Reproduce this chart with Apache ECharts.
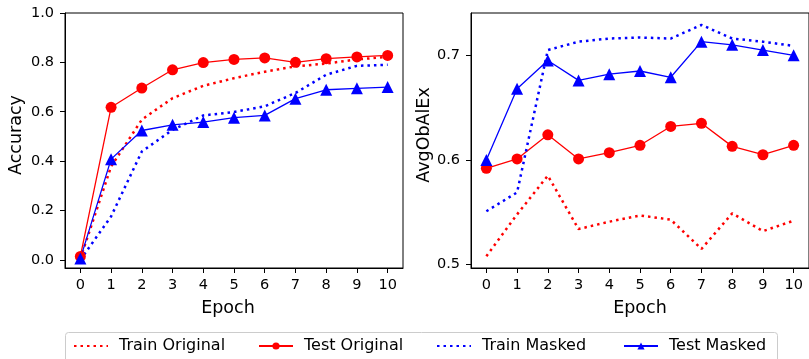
<!DOCTYPE html>
<html>
<head>
<meta charset="utf-8">
<script src="https://cdn.jsdelivr.net/npm/echarts@6/dist/echarts.min.js"></script>
<style>
  html, body { margin: 0; padding: 0; background: #fff; }
  #main { width: 809px; height: 359px; }
</style>
</head>
<body>
<div id="main"></div>
<script>
const epochs = [0, 1, 2, 3, 4, 5, 6, 7, 8, 9, 10]
const seriesNames = ['Train Original', 'Test Original', 'Train Masked', 'Test Masked']

// left: accuracy
const accTrainOriginal = [0.005, 0.378, 0.568, 0.655, 0.705, 0.736, 0.762, 0.784, 0.795, 0.812, 0.822]
const accTestOriginal = [0.014, 0.618, 0.696, 0.770, 0.799, 0.812, 0.818, 0.800, 0.815, 0.822, 0.828]
const accTrainMasked = [0.0, 0.176, 0.439, 0.527, 0.585, 0.599, 0.622, 0.676, 0.750, 0.786, 0.790]
const accTestMasked = [0.005, 0.408, 0.524, 0.547, 0.558, 0.576, 0.585, 0.653, 0.689, 0.695, 0.700]
const accTicks = [0, 0.2, 0.4, 0.6, 0.8, 1.0]

// right: AvgObAlEx
const alTrainOriginal = [0.508, 0.548, 0.585, 0.534, 0.541, 0.547, 0.543, 0.515, 0.549, 0.532, 0.542]
const alTestOriginal = [0.592, 0.601, 0.624, 0.601, 0.607, 0.614, 0.632, 0.635, 0.613, 0.605, 0.614]
const alTrainMasked = [0.551, 0.569, 0.705, 0.713, 0.716, 0.717, 0.716, 0.729, 0.716, 0.713, 0.709]
const alTestMasked = [0.600, 0.668, 0.695, 0.676, 0.682, 0.685, 0.679, 0.713, 0.710, 0.705, 0.700]
const alTicks = [0.5, 0.6, 0.7]

const RED = '#ff0000'
const BLUE = '#0000ff'
const FONT = 'DejaVu Sans'

const pairs = vals => epochs.map((e, i) => [e, vals[i]])

const xAxisFor = (gridIndex, namePad) => ({
  type: 'value',
  gridIndex: gridIndex,
  min: -0.5,
  max: 10.5,
  name: 'Epoch',
  nameLocation: 'middle',
  nameGap: 31,
  nameTextStyle: {fontFamily: FONT, fontSize: 17.5, color: '#000', padding: namePad},
  axisLine: {show: true, onZero: false, lineStyle: {color: '#000', width: 1}},
  axisTick: {show: true, inside: false, length: 5, lineStyle: {color: '#000'}, customValues: epochs},
  axisLabel: {fontFamily: FONT, fontSize: 14.5, color: '#000', margin: 10, customValues: epochs},
  splitLine: {show: false}
})

const yAxisFor = (gridIndex, min, max, ticks, name, gap) => ({
  type: 'value',
  gridIndex: gridIndex,
  min: min,
  max: max,
  name: name,
  nameLocation: 'middle',
  nameGap: gap,
  // nudge the rotated title up a little, like the original
  nameTextStyle: {fontFamily: FONT, fontSize: 17.5, color: '#000', padding: [0, 0, 0, 11]},
  axisLine: {show: true, onZero: false, lineStyle: {color: '#000', width: 1}},
  axisTick: {show: true, inside: false, length: 5, lineStyle: {color: '#000'}, customValues: ticks},
  axisLabel: {
    fontFamily: FONT, fontSize: 14.5, color: '#000', margin: 11, customValues: ticks,
    formatter: v => Number(v).toFixed(1)
  },
  splitLine: {show: false}
})

const dotted = (name, data, color, idx) => ({
  name: name,
  type: 'line',
  xAxisIndex: idx,
  yAxisIndex: idx,
  data: pairs(data),
  symbol: 'none',
  lineStyle: {color: color, width: 2.5, type: [2.5, 4], cap: 'butt'},
  itemStyle: {color: color},
  animation: false
})

const solid = (name, data, color, symbol, size, idx) => ({
  name: name,
  type: 'line',
  xAxisIndex: idx,
  yAxisIndex: idx,
  data: pairs(data),
  symbol: symbol,
  symbolSize: size,
  showAllSymbol: true,
  lineStyle: {color: color, width: 1.3},
  itemStyle: {color: color, borderWidth: 0},
  animation: false
})

const legendAt = (name, left, noMarker) => ({
  data: [name],
  left: left,
  top: 338,
  itemWidth: 34,
  itemHeight: 9,
  padding: 0,
  itemStyle: noMarker ? {opacity: 0} : {},
  textStyle: {fontFamily: FONT, fontSize: 16, color: '#000', padding: [0, 0, 0, 6]}
})

const chart = echarts.init(document.getElementById('main'))
chart.setOption({
  backgroundColor: '#fff',
  animation: false,
  grid: [
    {left: 65, top: 13, width: 338, height: 255, show: true, borderColor: '#000', borderWidth: 1, backgroundColor: 'transparent'},
    {left: 471, top: 13, width: 340, height: 255, show: true, borderColor: '#000', borderWidth: 1, backgroundColor: 'transparent'}
  ],
  xAxis: [xAxisFor(0, [0, 12, 0, 0]), xAxisFor(1, 0)],
  yAxis: [
    yAxisFor(0, -0.033, 1.0, accTicks, 'Accuracy', 40),
    yAxisFor(1, 0.4968, 0.7404, alTicks, 'AvgObAlEx', 37)
  ],
  legend: [
    legendAt(seriesNames[0], 73, true),
    legendAt(seriesNames[1], 258, false),
    legendAt(seriesNames[2], 436, true),
    legendAt(seriesNames[3], 623, false)
  ],
  graphic: [{
    type: 'rect',
    shape: {x: 65.5, y: 332.5, width: 712, height: 40, r: 3},
    style: {fill: 'transparent', stroke: '#cccccc', lineWidth: 1},
    silent: true
  }],
  series: [
    dotted(seriesNames[0], accTrainOriginal, RED, 0),
    solid(seriesNames[1], accTestOriginal, RED, 'circle', 11, 0),
    dotted(seriesNames[2], accTrainMasked, BLUE, 0),
    solid(seriesNames[3], accTestMasked, BLUE, 'triangle', 12, 0),
    dotted(seriesNames[0], alTrainOriginal, RED, 1),
    solid(seriesNames[1], alTestOriginal, RED, 'circle', 11, 1),
    dotted(seriesNames[2], alTrainMasked, BLUE, 1),
    solid(seriesNames[3], alTestMasked, BLUE, 'triangle', 12, 1)
  ]
})
</script>
</body>
</html>
